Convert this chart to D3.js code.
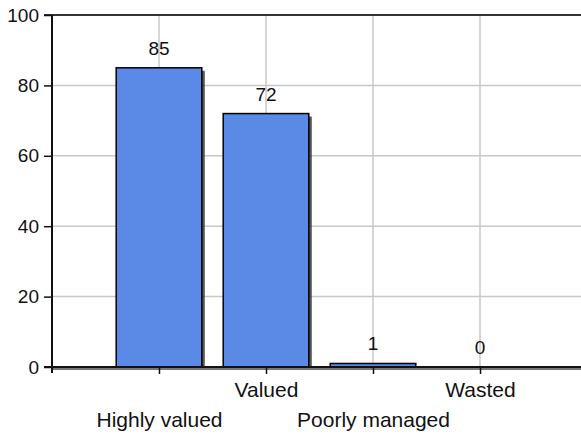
<!DOCTYPE html>
<html>
<head>
<meta charset="utf-8">
<script src="https://d3js.org/d3.v7.min.js"></script>
<style>
  body { margin: 0; background: #fff; }
  svg { display: block; font-family: "Liberation Sans", Arial, sans-serif; }
  .grid line { stroke: #c8c8c8; stroke-width: 1.5; }
</style>
</head>
<body>
<div class="vis-holder"></div>
<script>
// chart data
var categories = ["Highly valued", "Valued", "Poorly managed", "Wasted"];
var values = [85, 72, 1, 0];
var yTicks = [0, 20, 40, 60, 80, 100];

// svg size
var width = 581;
var height = 437;
// margins around the plot
var margin = { top: 15, bottom: 70, left: 52, right: 0 };

var svg = d3.select(".vis-holder")
            .append("svg")
            .attr("width", width)
            .attr("height", height);

// x-scale: category i sits at position i+1, plot runs past the right edge
var xScale = d3.scaleLinear()
               .domain([0, 5])
               .range([margin.left, margin.left + 5 * 107]);

var barWidth = 0.8 * (xScale(1) - xScale(0));

// y-scale 0..100
var yScale = d3.scaleLinear()
               .domain([0, 100])
               .range([height - margin.bottom, margin.top]);

var x0 = margin.left, x1 = width;
var yBase = yScale(0), yTop = yScale(100);

// horizontal grid lines
svg.append("g")
   .attr("class", "grid")
   .selectAll("line")
   .data(yTicks.filter(function(d) { return d > 0 && d < 100; }))
   .enter()
   .append("line")
   .attr("x1", x0).attr("x2", x1)
   .attr("y1", function(d) { return yScale(d); })
   .attr("y2", function(d) { return yScale(d); });

// vertical grid lines at category centres
svg.append("g")
   .attr("class", "grid")
   .selectAll("line")
   .data(categories)
   .enter()
   .append("line")
   .attr("x1", function(d, i) { return xScale(i + 1); })
   .attr("x2", function(d, i) { return xScale(i + 1); })
   .attr("y1", yTop).attr("y2", yBase);

// bar shadows
svg.append("g")
   .selectAll("rect")
   .data(values)
   .enter()
   .append("rect")
   .attr("x", function(d, i) { return xScale(i + 1) - barWidth / 2 + 3; })
   .attr("y", function(d) { return yScale(d) + 3; })
   .attr("width", barWidth)
   .attr("height", function(d) { return Math.max(0, yBase - yScale(d) - 1); })
   .attr("fill", "#3a3a3a")
   .attr("opacity", function(d) { return d > 0 ? 0.85 : 0; });

// bars
svg.append("g")
   .selectAll("rect")
   .data(values)
   .enter()
   .append("rect")
   .attr("x", function(d, i) { return xScale(i + 1) - barWidth / 2; })
   .attr("y", function(d) { return yScale(d); })
   .attr("width", barWidth)
   .attr("height", function(d) { return yBase - yScale(d); })
   .attr("fill", "#5a8ae6")
   .attr("stroke", "#000")
   .attr("stroke-width", 1.5)
   .attr("opacity", function(d) { return d > 0 ? 1 : 0; });

// value labels above bars
svg.append("g")
   .selectAll("text")
   .data(values)
   .enter()
   .append("text")
   .attr("x", function(d, i) { return xScale(i + 1); })
   .attr("y", function(d) { return yScale(d) - 13; })
   .attr("text-anchor", "middle")
   .attr("font-size", 19)
   .attr("fill", "#111")
   .text(function(d) { return d; });

// top frame line at 100
svg.append("line")
   .attr("x1", x0 - 8).attr("x2", x1)
   .attr("y1", yTop).attr("y2", yTop)
   .attr("stroke", "#333").attr("stroke-width", 2);

// bottom axis shadow + line
svg.append("line")
   .attr("x1", x0).attr("x2", x1)
   .attr("y1", yBase + 2).attr("y2", yBase + 2)
   .attr("stroke", "#777").attr("stroke-width", 2);
svg.append("line")
   .attr("x1", x0 - 8).attr("x2", x1)
   .attr("y1", yBase).attr("y2", yBase)
   .attr("stroke", "#111").attr("stroke-width", 2);

// y axis
var yAxis = svg.append("g")
               .attr("transform", "translate(" + x0 + ",0)")
               .call(d3.axisLeft(yScale).tickValues(yTicks).tickSize(8).tickPadding(5));
yAxis.select(".domain").remove();
yAxis.selectAll(".tick line").attr("stroke", "#111").attr("stroke-width", 1.5);
yAxis.selectAll(".tick text")
     .attr("font-size", 19)
     .attr("font-family", "Liberation Sans, Arial, sans-serif")
     .attr("fill", "#111");
svg.append("line")
   .attr("x1", x0).attr("x2", x0)
   .attr("y1", yTop).attr("y2", yBase + 6)
   .attr("stroke", "#111").attr("stroke-width", 2);

// x axis ticks and staggered labels
var xAxis = svg.append("g")
               .attr("transform", "translate(0," + yBase + ")")
               .call(d3.axisBottom(xScale)
                       .tickValues([1, 2, 3, 4])
                       .tickSize(7)
                       .tickFormat(function(d) { return categories[d - 1]; }));
xAxis.select(".domain").remove();
xAxis.selectAll(".tick line").attr("stroke", "#111").attr("stroke-width", 1.5);
xAxis.selectAll(".tick text")
     .attr("font-size", 21)
     .attr("font-family", "Liberation Sans, Arial, sans-serif")
     .attr("fill", "#111")
     .attr("dy", null)
     .attr("y", function(d) { return d % 2 === 0 ? 30 : 60; });
</script>
</body>
</html>
